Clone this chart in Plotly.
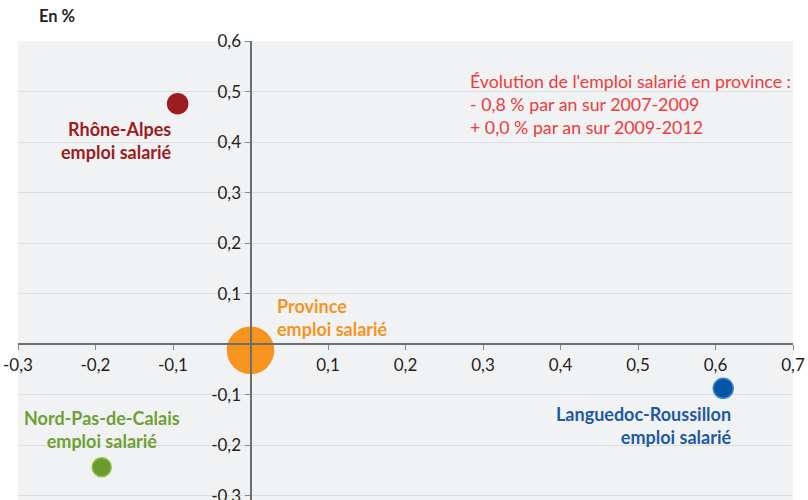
import plotly.graph_objects as go

# Données (en %)
regions = ["Rhône-Alpes", "Province", "Nord-Pas-de-Calais", "Languedoc-Roussillon"]
evol_x = [-0.094, 0.0, -0.192, 0.610]
evol_y = [0.476, -0.012, -0.243, -0.087]
point_colors = ["#9C1C20", "#F7941D", "#6B9B2D", "#0356A5"]
outline_colors = ["#9C1C20", "#F7941D", "#8DBF4A", "#3D86CC"]
label_colors = ["#9C1C20", "#F7941D", "#6FA034", "#1D5AA6"]
point_sizes = [20, 46, 19, 20]

x_tickvals = [-0.3, -0.2, -0.1, 0.1, 0.2, 0.3, 0.4, 0.5, 0.6, 0.7]
x_ticktext = ["-0,3", "-0,2", "-0,1", "0,1", "0,2", "0,3", "0,4", "0,5", "0,6", "0,7"]
y_tickvals = [-0.3, -0.2, -0.1, 0.1, 0.2, 0.3, 0.4, 0.5, 0.6]
y_ticktext = ["-0,3", "-0,2", "-0,1", "0,1", "0,2", "0,3", "0,4", "0,5", "0,6"]

note_lines = ["Évolution de l'emploi salarié en province :",
              "- 0,8 % par an sur 2007-2009",
              "+ 0,0 % par an sur 2009-2012"]

x_range = [-0.3, 0.7]
y_range = [-0.308, 0.6]

FONT = "Lato"

fig = go.Figure()
fig.add_trace(go.Scatter(
    x=evol_x, y=evol_y, mode="markers",
    marker=dict(size=point_sizes, color=point_colors, opacity=1,
                line=dict(color=outline_colors, width=1.5)),
    hoverinfo="skip", showlegend=False,
))

# étiquettes des points: (xanchor, align, xshift, yshift)
label_pos = [("right", "right", -4, -37),
             ("left", "left", 24, 33),
             ("center", "center", 0, 38),
             ("right", "right", 10, -37)]
for i, name in enumerate(regions):
    xa, al, xs, ys = label_pos[i]
    fig.add_annotation(x=evol_x[i], y=evol_y[i], xref="x", yref="y",
                       text=f"<b>{name}<br>emploi salarié</b>", showarrow=False,
                       xanchor=xa, yanchor="middle", align=al, xshift=xs, yshift=ys,
                       font=dict(family=FONT, size=18, color=label_colors[i]))

fig.add_annotation(x=0.28, y=0.476, xref="x", yref="y",
                   text="<br>".join(note_lines), showarrow=False,
                   xanchor="left", yanchor="middle", align="left",
                   font=dict(family=FONT, size=17.8, color="#EE3B3B"))

fig.add_annotation(x=0.0245, y=1.055, xref="paper", yref="paper",
                   text="<b>En %</b>", showarrow=False, xanchor="left", yanchor="middle",
                   font=dict(family=FONT, size=16.5, color="#231F20"))

x_pos = (0 - y_range[0]) / (y_range[1] - y_range[0])
y_pos = (0 - x_range[0]) / (x_range[1] - x_range[0])

fig.update_layout(
    width=808, height=500,
    margin=dict(l=18, r=15, t=41, b=0),
    paper_bgcolor="white", plot_bgcolor="#F1F2F4",
    font=dict(family=FONT, size=17, color="#231F20"),
    xaxis=dict(range=x_range, tickvals=x_tickvals, ticktext=x_ticktext,
               showgrid=False, zeroline=False, showline=True, linecolor="#6D6E70",
               linewidth=2, ticks="outside", ticklen=5, tickcolor="#8A8B8D",
               anchor="free", position=x_pos, side="bottom", automargin=False,
               ticklabeloverflow="allow", tickfont=dict(size=17)),
    yaxis=dict(range=y_range, tickvals=y_tickvals, ticktext=y_ticktext,
               showgrid=True, gridcolor="#DCDDDF", gridwidth=1, zeroline=False,
               showline=True, linecolor="#6D6E70", linewidth=2,
               ticks="outside", ticklen=5, tickcolor="#8A8B8D",
               anchor="free", position=y_pos, side="left", automargin=False,
               ticklabeloverflow="allow", tickfont=dict(size=17)),
)

fig.write_html("out.html", config={"displayModeBar": False},
               post_script="document.body.style.margin='0';")
